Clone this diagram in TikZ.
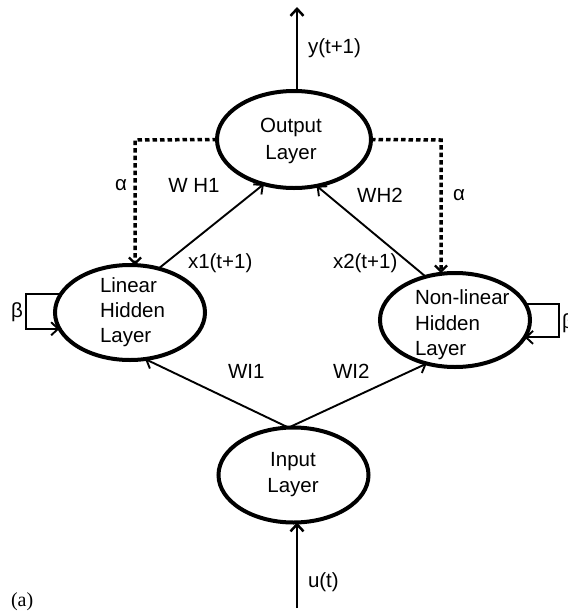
\documentclass[tikz,border=0pt]{standalone}
\usepackage{fontspec}
\setmainfont{Liberation Sans}
\newfontfamily\seriffont{Liberation Serif}
\usetikzlibrary{shapes.geometric,arrows.meta}
\begin{document}
\begin{tikzpicture}[x=1pt,y=-1pt,
  font=\fontsize{20.5}{26}\selectfont,
  layer/.style={draw, ellipse, line width=4pt, inner sep=0pt, outer sep=0pt},
  txt/.style={inner sep=0pt, outer sep=0pt},
  conn/.style={line width=1.9pt, -{Straight Barb[length=7pt,width=13pt]}},
  ioarrow/.style={line width=2.5pt, -{Straight Barb[length=7pt,width=13pt]}},
  fb/.style={line width=3.5pt, dash pattern=on 4.5pt off 3pt, -{Straight Barb[length=6pt,width=12pt,line width=2.2pt]}},
  loop/.style={line width=1.9pt, -{Straight Barb[length=7pt,width=13pt]}}]
\useasboundingbox (0,0) rectangle (568,611);

% layers
\node[layer, minimum width=154pt, minimum height=97pt] (out) at (294,139.5) {};
\node[layer, minimum width=150pt, minimum height=95pt] (lin) at (130,312.5) {};
\node[layer, minimum width=150pt, minimum height=94pt] (nl) at (455,320) {};
\node[layer, minimum width=150pt, minimum height=95pt] (inp) at (293.5,475) {};

% layer texts
\node[txt, align=center, font=\fontsize{20.5}{27}\selectfont] (outT) at (291,141) {Output\\Layer};
\node[txt, align=left, anchor=west, font=\fontsize{20.5}{25}\selectfont] (linT) at (100,312) {Linear\\Hidden\\Layer};
\node[txt, align=left, anchor=west, font=\fontsize{20.5}{25.5}\selectfont] (nlT) at (415,325) {Non-linear\\Hidden\\Layer};
\node[txt, align=center] (inpT) at (293,475) {Input\\Layer};

% input / output arrows
\coordinate (topEnd) at (297,7);
\coordinate (botStart) at (297,608);
\draw[ioarrow] (out.north -| topEnd) -- (topEnd);
\draw[ioarrow] (botStart) -- (botStart |- inp.south);

% forward connections
\draw[conn] (lin.57) -- (out.236);
\draw[conn] (nl.124) -- (out.-64.6);
\draw[conn] (inp.96) -- (lin.-72);
\draw[conn] (inp.96) -- (nl.237);

% feedback (alpha)
\coordinate (cL) at (135,140);
\coordinate (cR) at (441,140);
\draw[fb] (out.west) -- (cL) -- (cL |- lin.north);
\draw[fb] (out.east) -- (cR) -- (cR |- nl.north);

% self loops (beta)
\coordinate (bLx) at (26,0);
\coordinate (bRx) at (559,0);
\draw[loop] (lin.165.4) -- (lin.165.4 -| bLx) |- (lin.193.5);
\draw[loop] (nl.13.2) -- (nl.13.2 -| bRx) |- (nl.-14.6);

% labels
\node[txt, anchor=west] (ylab) at (308,48) {y(t+1)};
\node[txt, anchor=west] (ulab) at (308,582) {u(t)};
\node[txt] (aL) at (121,185) {α};
\node[txt] (aR) at (459,195) {α};
\node[txt] (wh1) at (194,185) {W H1};
\node[txt] (wh2) at (380,195) {WH2};
\node[txt, anchor=west] (x1) at (188,263) {x1(t+1)};
\node[txt, anchor=west] (x2) at (333,263) {x2(t+1)};
\node[txt, anchor=west] (wi1) at (228,371) {WI1};
\node[txt, anchor=west] (wi2) at (333,371) {WI2};
\node[txt] (bL) at (17,312) {β};
\node[txt, anchor=west] (bR) at (562,323) {β};
\node[txt, anchor=west, font=\seriffont\fontsize{20}{24}\selectfont] (alab) at (11,602) {(a)};
\end{tikzpicture}
\end{document}
